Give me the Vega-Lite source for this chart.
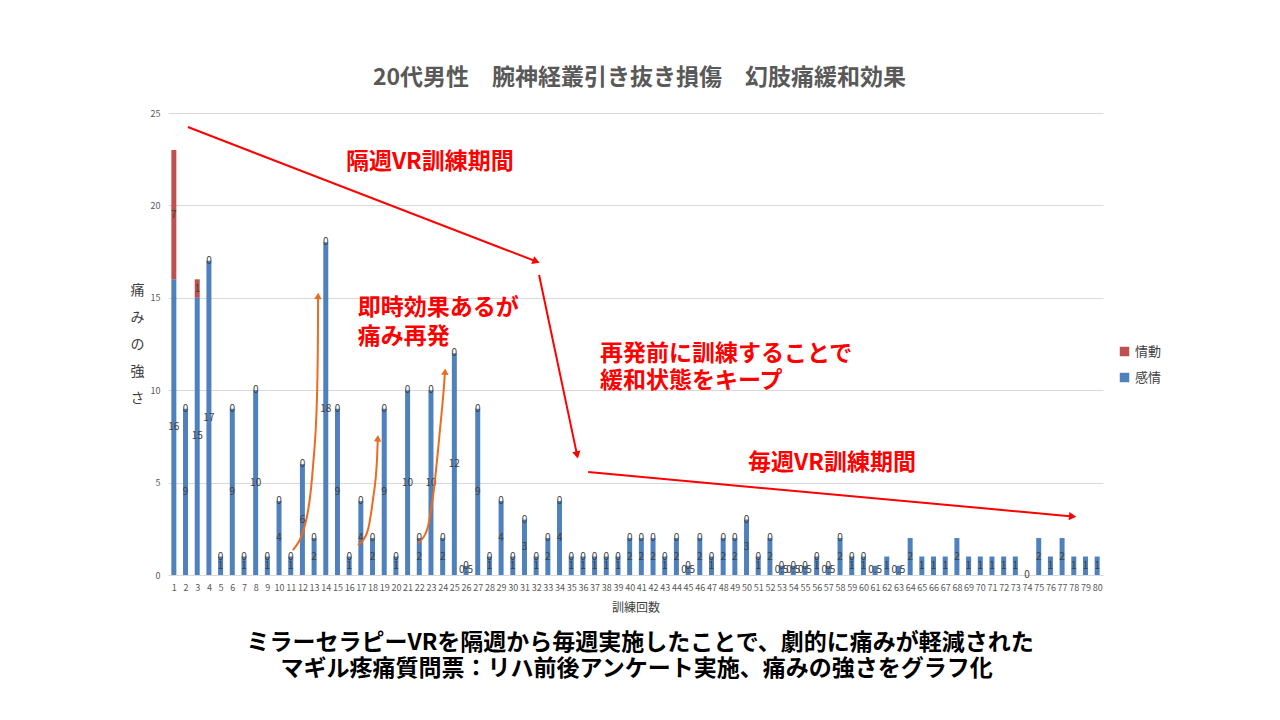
{
  "$schema": "https://vega.github.io/schema/vega-lite/v6.json",
  "autosize": "none",
  "width": 935,
  "height": 462,
  "padding": {"left": 168, "top": 113, "right": 177, "bottom": 145},
  "background": "white",
  "config": {
    "view": {"stroke": null},
    "font": "Noto Sans CJK JP",
    "axis": {"labelOverlap": false},
    "scale": {"continuousPadding": 0}
  },
  "title": {
    "text": "20代男性　腕神経叢引き抜き損傷　幻肢痛緩和効果",
    "font": "Noto Sans CJK JP",
    "fontSize": 23,
    "fontWeight": "bold",
    "color": "#595959",
    "anchor": "middle",
    "offset": 19,
    "dx": 4
  },
  "datasets": {
    "pain": [
      {"n": 1, "感情": 16, "情動": 7},
      {"n": 2, "感情": 9, "情動": 0},
      {"n": 3, "感情": 15, "情動": 1},
      {"n": 4, "感情": 17, "情動": 0},
      {"n": 5, "感情": 1, "情動": 0},
      {"n": 6, "感情": 9, "情動": 0},
      {"n": 7, "感情": 1, "情動": 0},
      {"n": 8, "感情": 10, "情動": 0},
      {"n": 9, "感情": 1, "情動": 0},
      {"n": 10, "感情": 4, "情動": 0},
      {"n": 11, "感情": 1, "情動": 0},
      {"n": 12, "感情": 6, "情動": 0},
      {"n": 13, "感情": 2, "情動": 0},
      {"n": 14, "感情": 18, "情動": 0},
      {"n": 15, "感情": 9, "情動": 0},
      {"n": 16, "感情": 1, "情動": 0},
      {"n": 17, "感情": 4, "情動": 0},
      {"n": 18, "感情": 2, "情動": 0},
      {"n": 19, "感情": 9, "情動": 0},
      {"n": 20, "感情": 1, "情動": 0},
      {"n": 21, "感情": 10, "情動": 0},
      {"n": 22, "感情": 2, "情動": 0},
      {"n": 23, "感情": 10, "情動": 0},
      {"n": 24, "感情": 2, "情動": 0},
      {"n": 25, "感情": 12, "情動": 0},
      {"n": 26, "感情": 0.5, "情動": 0},
      {"n": 27, "感情": 9, "情動": 0},
      {"n": 28, "感情": 1, "情動": 0},
      {"n": 29, "感情": 4, "情動": 0},
      {"n": 30, "感情": 1, "情動": 0},
      {"n": 31, "感情": 3, "情動": 0},
      {"n": 32, "感情": 1, "情動": 0},
      {"n": 33, "感情": 2, "情動": 0},
      {"n": 34, "感情": 4, "情動": 0},
      {"n": 35, "感情": 1, "情動": 0},
      {"n": 36, "感情": 1, "情動": 0},
      {"n": 37, "感情": 1, "情動": 0},
      {"n": 38, "感情": 1, "情動": 0},
      {"n": 39, "感情": 1, "情動": 0},
      {"n": 40, "感情": 2, "情動": 0},
      {"n": 41, "感情": 2, "情動": 0},
      {"n": 42, "感情": 2, "情動": 0},
      {"n": 43, "感情": 1, "情動": 0},
      {"n": 44, "感情": 2, "情動": 0},
      {"n": 45, "感情": 0.5, "情動": 0},
      {"n": 46, "感情": 2, "情動": 0},
      {"n": 47, "感情": 1, "情動": 0},
      {"n": 48, "感情": 2, "情動": 0},
      {"n": 49, "感情": 2, "情動": 0},
      {"n": 50, "感情": 3, "情動": 0},
      {"n": 51, "感情": 1, "情動": 0},
      {"n": 52, "感情": 2, "情動": 0},
      {"n": 53, "感情": 0.5, "情動": 0},
      {"n": 54, "感情": 0.5, "情動": 0},
      {"n": 55, "感情": 0.5, "情動": 0},
      {"n": 56, "感情": 1, "情動": 0},
      {"n": 57, "感情": 0.5, "情動": 0},
      {"n": 58, "感情": 2, "情動": 0},
      {"n": 59, "感情": 1, "情動": 0},
      {"n": 60, "感情": 1, "情動": 0},
      {"n": 61, "感情": 0.5},
      {"n": 62, "感情": 1},
      {"n": 63, "感情": 0.5},
      {"n": 64, "感情": 2},
      {"n": 65, "感情": 1},
      {"n": 66, "感情": 1},
      {"n": 67, "感情": 1},
      {"n": 68, "感情": 2},
      {"n": 69, "感情": 1},
      {"n": 70, "感情": 1},
      {"n": 71, "感情": 1},
      {"n": 72, "感情": 1},
      {"n": 73, "感情": 1},
      {"n": 74, "感情": 0},
      {"n": 75, "感情": 2},
      {"n": 76, "感情": 1},
      {"n": 77, "感情": 2},
      {"n": 78, "感情": 1},
      {"n": 79, "感情": 1},
      {"n": 80, "感情": 1}
    ],
    "redArrows": [
      {"seg": "a", "x": 2.2, "y": 24.24},
      {"seg": "a", "x": 32.0, "y": 16.97},
      {"seg": "b", "x": 32.25, "y": 16.23},
      {"seg": "b", "x": 35.5, "y": 6.5},
      {"seg": "c", "x": 36.45, "y": 5.57},
      {"seg": "c", "x": 77.9, "y": 3.17}
    ],
    "orangeArrows": [
      {"seg": "a", "x": 11.19, "y": 1.35},
      {"seg": "a", "x": 12.38, "y": 3.14},
      {"seg": "a", "x": 12.9, "y": 5.84},
      {"seg": "a", "x": 13.24, "y": 9.47},
      {"seg": "a", "x": 13.33, "y": 13.1},
      {"seg": "a", "x": 13.34, "y": 15.1},
      {"seg": "b", "x": 16.75, "y": 1.62},
      {"seg": "b", "x": 17.52, "y": 2.27},
      {"seg": "b", "x": 18.03, "y": 4.06},
      {"seg": "b", "x": 18.38, "y": 6.22},
      {"seg": "b", "x": 18.45, "y": 7.4},
      {"seg": "c", "x": 21.89, "y": 1.73},
      {"seg": "c", "x": 22.66, "y": 2.44},
      {"seg": "c", "x": 23.17, "y": 4.22},
      {"seg": "c", "x": 23.77, "y": 7.85},
      {"seg": "c", "x": 24.12, "y": 10.28},
      {"seg": "c", "x": 24.2, "y": 11.0}
    ],
    "notes": [
      {"x": 15.72, "y": 22.35, "text": "隔週VR訓練期間"},
      {"x": 16.74, "y": 14.45, "text": "即時効果あるが"},
      {"x": 16.74, "y": 12.88, "text": "痛み再発"},
      {"x": 37.46, "y": 11.96, "text": "再発前に訓練することで"},
      {"x": 37.46, "y": 10.5, "text": "緩和状態をキープ"},
      {"x": 50.13, "y": 6.06, "text": "毎週VR訓練期間"}
    ],
    "captions": [
      {"x": 40.89, "y": -3.68, "text": "ミラーセラピーVRを隔週から毎週実施したことで、劇的に痛みが軽減された"},
      {"x": 40.6, "y": -5.09, "text": "マギル疼痛質問票：リハ前後アンケート実施、痛みの強さをグラフ化"}
    ]
  },
  "encoding": {
    "x": {
      "field": "x", "type": "quantitative",
      "scale": {"domain": [0.5, 80.5], "nice": false, "zero": false, "padding": 0},
      "axis": {
        "values": [1,2,3,4,5,6,7,8,9,10,11,12,13,14,15,16,17,18,19,20,21,22,23,24,25,26,27,28,29,30,31,32,33,34,35,36,37,38,39,40,41,42,43,44,45,46,47,48,49,50,51,52,53,54,55,56,57,58,59,60,61,62,63,64,65,66,67,68,69,70,71,72,73,74,75,76,77,78,79,80],
        "title": "訓練回数",
        "titleFontSize": 12,
        "titleFontWeight": "normal",
        "titleColor": "#404040",
        "titlePadding": 10,
        "labelFontSize": 9,
        "labelColor": "#595959",
        "labelPadding": 8,
        "labelFlush": false,
        "labelOverlap": false,
        "domain": false,
        "ticks": false,
        "grid": false
      }
    },
    "y": {
      "field": "y", "type": "quantitative",
      "scale": {"domain": [0, 25], "nice": false, "padding": 0},
      "axis": {
        "values": [0, 5, 10, 15, 20, 25],
        "title": ["痛", "み", "の", "強", "さ"],
        "titleAngle": 0,
        "titleAlign": "center",
        "titleBaseline": "middle",
        "titleX": -31,
        "titleY": 177,
        "titleFontSize": 14,
        "titleFontWeight": "normal",
        "titleColor": "#404040",
        "titleLineHeight": 27,
        "labelFontSize": 9,
        "labelColor": "#595959",
        "labelPadding": 8,
        "labelOverlap": false,
        "domain": false,
        "ticks": false,
        "gridColor": "#d9d9d9",
        "gridWidth": 1
      }
    }
  },
  "layer": [
    {
      "data": {"name": "pain"},
      "transform": [
        {"fold": ["感情", "情動"], "as": ["key", "value"]},
        {"filter": "isValid(datum.value)"}
      ],
      "layer": [
        {
          "mark": {"type": "bar", "size": 5},
          "encoding": {
            "x": {"field": "n", "type": "quantitative"},
            "y": {"field": "value", "type": "quantitative", "stack": "zero"},
            "color": {
              "field": "key", "type": "nominal",
              "scale": {"domain": ["情動", "感情"], "range": ["#c0504d", "#4f81bd"]},
              "legend": {
                "orient": "none",
                "legendX": 950,
                "legendY": 232,
                "title": null,
                "symbolType": "square",
                "symbolSize": 90,
                "symbolStrokeWidth": 0,
                "labelFontSize": 13,
                "labelColor": "#404040",
                "rowPadding": 12
              }
            },
            "order": {"field": "key", "sort": "descending"}
          }
        },
        {
          "mark": {"type": "text", "fontSize": 10, "color": "#404040", "baseline": "middle"},
          "encoding": {
            "x": {"field": "n", "type": "quantitative"},
            "y": {"field": "value", "type": "quantitative", "stack": "zero", "bandPosition": 0.5},
            "detail": {"field": "key"},
            "order": {"field": "key", "sort": "descending"},
            "text": {"field": "value", "type": "quantitative"}
          }
        }
      ]
    },
    {
      "data": {"name": "redArrows"},
      "mark": {"type": "line", "color": "#ff0000", "strokeWidth": 2},
      "encoding": {
        "detail": {"field": "seg"}
      }
    },
    {
      "data": {"name": "redArrows"},
      "transform": [{"filter": "datum.seg === 'a' && datum.x > 10"}],
      "mark": {"type": "point", "shape": "triangle-right", "filled": true, "color": "#ff0000", "size": 70, "angle": 21, "opacity": 1}
    },
    {
      "data": {"name": "redArrows"},
      "transform": [{"filter": "datum.seg === 'b' && datum.y < 10"}],
      "mark": {"type": "point", "shape": "triangle-right", "filled": true, "color": "#ff0000", "size": 70, "angle": 78, "opacity": 1}
    },
    {
      "data": {"name": "redArrows"},
      "transform": [{"filter": "datum.seg === 'c' && datum.x > 50"}],
      "mark": {"type": "point", "shape": "triangle-right", "filled": true, "color": "#ff0000", "size": 70, "angle": 5, "opacity": 1}
    },
    {
      "data": {"name": "orangeArrows"},
      "mark": {"type": "line", "color": "#ed6b1f", "strokeWidth": 2, "interpolate": "monotone"},
      "encoding": {
        "detail": {"field": "seg"},
        "order": {"field": "y", "type": "quantitative"}
      }
    },
    {
      "data": {"name": "orangeArrows"},
      "transform": [{"filter": "(datum.seg === 'a' && datum.y > 15) || (datum.seg === 'b' && datum.y > 7) || (datum.seg === 'c' && datum.y > 10.5)"}],
      "mark": {"type": "point", "shape": "triangle-up", "filled": true, "color": "#ed6b1f", "size": 55, "angle": 3, "opacity": 1}
    },
    {
      "data": {"name": "notes"},
      "mark": {"type": "text", "align": "left", "baseline": "middle", "color": "#ff0000", "fontSize": 23, "fontWeight": "bold", "font": "Noto Sans CJK JP"},
      "encoding": {
        "text": {"field": "text"}
      }
    },
    {
      "data": {"name": "captions"},
      "mark": {"type": "text", "align": "center", "baseline": "middle", "color": "#000000", "fontSize": 23, "fontWeight": "bold", "font": "Noto Sans CJK JP"},
      "encoding": {
        "text": {"field": "text"}
      }
    }
  ]
}
